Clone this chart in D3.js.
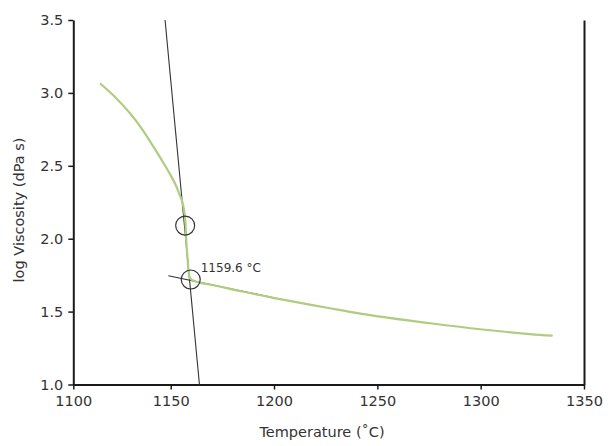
<!DOCTYPE html>
<html>
<head>
<meta charset="utf-8">
<script src="https://cdn.jsdelivr.net/npm/d3@7"></script>
<style>
    body { margin: 0; background: #fff; }
    .chart text { font-family: "DejaVu Sans", sans-serif; fill: #333; }
</style>
</head>
<body>
<svg class="chart" width="610" height="446"></svg>
<script>
// viscosity curve
const temperature = [1114.1, 1121.4, 1129.1, 1135.3, 1141.1, 1146.3, 1149.6, 1152.2, 1154.0, 1155.5,
    1156.6, 1157.1, 1157.5, 1158.2, 1158.7, 1159.3, 1160.8, 1164.2, 1171.4, 1183.5,
    1193.2, 1202.9, 1227.1, 1251.3, 1275.5, 1299.7, 1323.9, 1334.4];
const logViscosity = [3.061, 2.972, 2.860, 2.752, 2.631, 2.519, 2.444, 2.375, 2.313, 2.259,
    2.183, 2.115, 1.991, 1.854, 1.772, 1.730, 1.713, 1.699, 1.679, 1.641,
    1.614, 1.586, 1.523, 1.465, 1.420, 1.379, 1.346, 1.335];

// construction lines (two endpoints each)
const steepLineT = [1147.1, 1163.9];
const steepLineV = [3.5, 1.0];
const tangentLineT = [1148.8, 1201.4];
const tangentLineV = [1.746, 1.590];

// marker circles
const markerT = [1157.0, 1159.7];
const markerV = [2.09, 1.72];
const onsetLabel = "1159.6 °C";

const xTicks = [1100, 1150, 1200, 1250, 1300, 1350];
const yTicks = [1.0, 1.5, 2.0, 2.5, 3.0, 3.5];

const margin = {top: 20, left: 73.3};
const width = 584 - margin.left;
const height = 384.5 - margin.top;

const svg = d3.select(".chart");
const g = svg.append("g")
    .attr("transform", `translate(${margin.left}, ${margin.top})`);

// the picture's x axis is slightly squeezed between 1100 and 1150
const xScale = d3.scaleLinear().domain([1100, 1150, 1350]).range([0, 97.4, width]);
const yScale = d3.scaleLinear().domain([1.0, 3.5]).range([height, 0]);

const xAxis = g.append("g")
    .attr("transform", `translate(0, ${height})`)
    .call(d3.axisBottom(xScale).tickValues(xTicks).tickSizeInner(5).tickSizeOuter(0).tickPadding(6).tickFormat(d3.format("d")));

const yAxis = g.append("g")
    .call(d3.axisLeft(yScale).tickValues(yTicks).tickSizeInner(5).tickSizeOuter(0).tickPadding(5).tickFormat(d3.format(".1f")));

const rightAxis = g.append("g")
    .attr("transform", `translate(${width}, 0)`)
    .call(d3.axisRight(yScale).tickValues([]).tickSizeOuter(0));

[xAxis, yAxis, rightAxis].forEach(a => {
    a.select(".domain").attr("stroke", "#1a1a1a").attr("stroke-width", 2);
    a.selectAll(".tick line").attr("stroke", "#1a1a1a").attr("stroke-width", 1.5);
    a.selectAll(".tick text").style("font-size", "14.5px").attr("fill", "#333");
});

const line = d3.line()
    .x(d => xScale(d.x))
    .y(d => yScale(d.y));

const toPoints = (xs, ys) => xs.map((x, i) => ({x: x, y: ys[i]}));

g.append("path")
    .datum(toPoints(steepLineT, steepLineV))
    .attr("fill", "none")
    .attr("stroke", "#333")
    .attr("stroke-width", 1.1)
    .attr("d", line);

g.append("path")
    .datum(toPoints(tangentLineT, tangentLineV))
    .attr("fill", "none")
    .attr("stroke", "#333")
    .attr("stroke-width", 1.1)
    .attr("d", line);

g.append("path")
    .datum(toPoints(temperature, logViscosity))
    .attr("fill", "none")
    .attr("stroke", "#b0cc80")
    .attr("stroke-width", 2.2)
    .attr("stroke-linejoin", "round")
    .attr("stroke-linecap", "round")
    .attr("d", line.curve(d3.curveCatmullRom.alpha(0.5)));

g.selectAll("circle.marker")
    .data(toPoints(markerT, markerV))
    .enter().append("circle")
        .attr("class", "marker")
        .attr("cx", d => xScale(d.x))
        .attr("cy", d => yScale(d.y))
        .attr("r", 9.5)
        .attr("fill", "none")
        .attr("stroke", "#333")
        .attr("stroke-width", 1.2);

g.append("text")
    .attr("x", xScale(markerT[1]) + 10)
    .attr("y", yScale(markerV[1]) - 7.5)
    .style("font-size", "12px")
    .text(onsetLabel);

// axis titles
svg.append("text")
    .attr("x", 322)
    .attr("y", 437)
    .attr("text-anchor", "middle")
    .style("font-size", "14.5px")
    .text("Temperature (˚C)");

svg.append("text")
    .attr("transform", "translate(24, 210) rotate(-90)")
    .attr("text-anchor", "middle")
    .style("font-size", "14.5px")
    .text("log Viscosity (dPa s)");
</script>
</body>
</html>
